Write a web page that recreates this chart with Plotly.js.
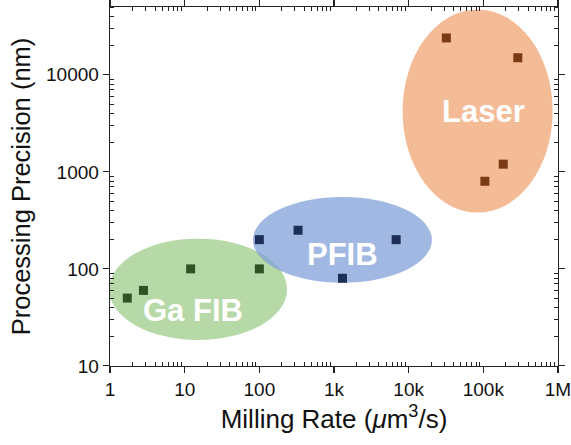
<!DOCTYPE html>
<html>
<head>
<meta charset="utf-8">
<script src="https://cdn.plot.ly/plotly-3.0.1.min.js"></script>
<style>html,body{margin:0;padding:0;background:#fff;}#chart{width:571px;height:445px;}</style>
</head>
<body>
<div id="chart"></div>
<script>
// Data
const gaRate = [1.7, 2.8, 12, 100];
const gaPrecision = [50, 60, 100, 100];
const pfibRate = [100, 330, 1300, 6800];
const pfibPrecision = [200, 250, 80, 200];
const laserRate = [32000, 290000, 185000, 105000];
const laserPrecision = [24000, 15000, 1200, 800];

const groupNames = ["Ga FIB", "PFIB", "Laser"];
// ellipse extents [xmin, xmax, ymin, ymax] in data units
const groupEllipses = [
  [0.97, 235, 18.5, 205],
  [82, 20500, 72, 550],
  [8300, 850000, 380, 47000]
];
const groupLabelPos = [[13, 37], [1300, 140], [100000, 4200]];
const groupFill = ["rgba(164,207,145,0.80)", "rgba(128,160,216,0.75)", "rgba(241,170,125,0.80)"];
const groupMarker = ["#2e5423", "#1e2f57", "#7a3a14"];

const xTickVals = [1, 10, 100, 1000, 10000, 100000, 1000000];
const xTickText = ["1", "10", "100", "1k", "10k", "100k", "1M"];
const yTickVals = [10, 100, 1000, 10000];
const yTickText = ["10", "100", "1000", "10000"];

function minorTicks(lo, hi) {
  const v = [];
  for (let d = lo; d < hi; d++) for (let k = 2; k <= 9; k++) v.push(k * Math.pow(10, d));
  return v;
}

const series = [[gaRate, gaPrecision], [pfibRate, pfibPrecision], [laserRate, laserPrecision]];
const traces = series.map((s, i) => ({
  x: s[0], y: s[1], type: 'scatter', mode: 'markers', name: groupNames[i],
  marker: {symbol: 'square', size: 9, color: groupMarker[i]},
  showlegend: false, hoverinfo: 'x+y'
}));

const shapes = groupEllipses.map((e, i) => ({
  type: 'circle', xref: 'x', yref: 'y', layer: 'below',
  x0: e[0], x1: e[1], y0: e[2], y1: e[3],
  fillcolor: groupFill[i], line: {width: 0}
}));

const annotations = groupNames.map((n, i) => ({
  x: Math.log10(groupLabelPos[i][0]), y: Math.log10(groupLabelPos[i][1]),
  xref: 'x', yref: 'y', text: '<b>' + n + '</b>', showarrow: false,
  font: {family: 'Liberation Sans, Arial, sans-serif', size: 31, color: '#ffffff'}
}));

const axisCommon = {
  type: 'log', showline: true, linecolor: '#222', linewidth: 1.3, mirror: 'ticks',
  ticks: 'outside', ticklen: 6, tickwidth: 1.2, tickcolor: '#222',
  showgrid: false, zeroline: false, tickmode: 'array', ticklabeloverflow: 'allow',
  tickfont: {family: 'Liberation Sans, Arial, sans-serif', size: 19, color: '#111'}
};

const layout = {
  width: 571, height: 445,
  margin: {l: 110, r: 13, t: 7, b: 79},
  paper_bgcolor: '#fff', plot_bgcolor: '#fff',
  font: {family: 'Liberation Sans, Arial, sans-serif', color: '#111'},
  xaxis: Object.assign({}, axisCommon, {
    range: [-0.001, 6.001], tickvals: xTickVals, ticktext: xTickText,
    minor: {ticks: 'inside', ticklen: 4, tickwidth: 1, tickcolor: '#222', tickmode: 'array', tickvals: minorTicks(0, 6), showgrid: false},
    title: {text: 'Milling Rate (<i>μ</i>m<sup>3</sup>/s)', font: {size: 26, color: '#111'}, standoff: 10}
  }),
  yaxis: Object.assign({}, axisCommon, {
    range: [0.999, Math.log10(50000)], tickvals: yTickVals, ticktext: yTickText,
    minor: {ticks: 'inside', ticklen: 4, tickwidth: 1, tickcolor: '#222', tickmode: 'array', tickvals: minorTicks(1, 5), showgrid: false},
    title: {text: 'Processing Precision (nm)', font: {size: 25.5, color: '#111'}, standoff: 8}
  }),
  shapes: shapes,
  annotations: annotations
};

Plotly.newPlot('chart', traces, layout, {displayModeBar: false, staticPlot: true});
</script>
</body>
</html>
